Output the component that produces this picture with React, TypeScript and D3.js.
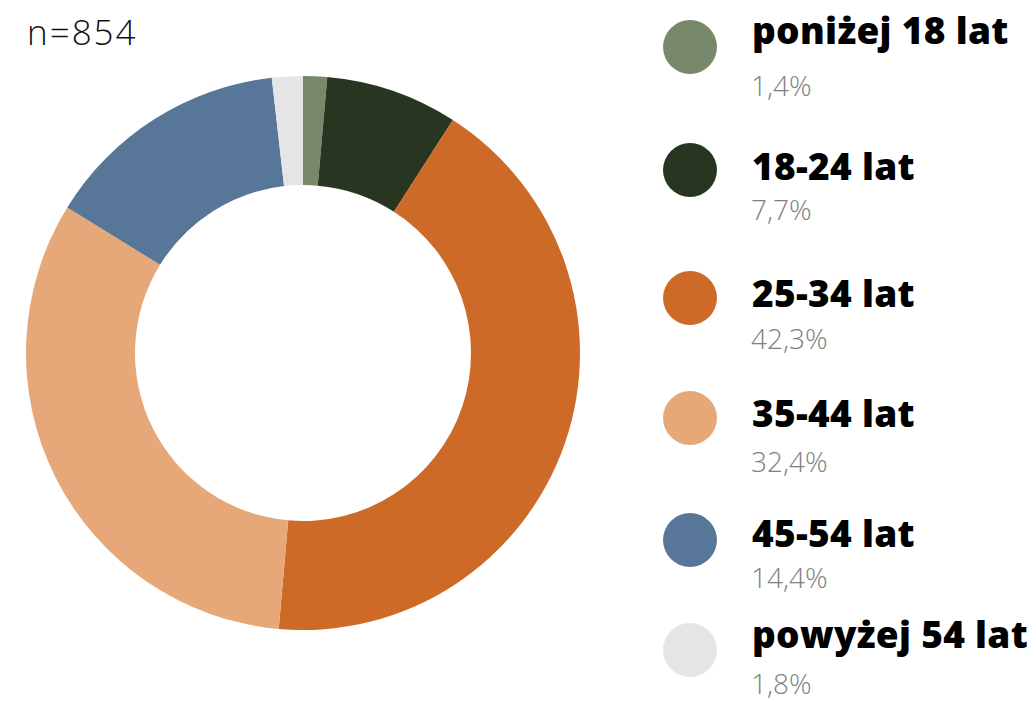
import { useEffect, useRef } from "react";
import * as d3 from "d3";

const categories = ["poniżej 18 lat", "18-24 lat", "25-34 lat", "35-44 lat", "45-54 lat", "powyżej 54 lat"];
const shares = [1.4, 7.7, 42.3, 32.4, 14.4, 1.8];
const shareLabels = ["1,4%", "7,7%", "42,3%", "32,4%", "14,4%", "1,8%"];
const colors = ["#78896b", "#283520", "#cd6a28", "#e7a879", "#587698", "#e5e5e5"];
const sampleLabel = "n=854";

// legend rows: circle centre, label baseline, percent baseline
const legendRows = [
  { cy: 47, label: 44, pct: 96 },
  { cy: 170, label: 180, pct: 220 },
  { cy: 298, label: 307, pct: 349 },
  { cy: 418, label: 427, pct: 472 },
  { cy: 540, label: 547, pct: 588 },
  { cy: 650, label: 648, pct: 694 },
];

const App = () => {
  const svgRef = useRef<SVGSVGElement | null>(null);

  useEffect(() => {
    const width = 1036;
    const height = 701;
    const svg = d3.select(svgRef.current).attr("width", width).attr("height", height);
    svg.selectAll("*").remove();

    const cx = 303;
    const cy = 353;
    const outer = 277;
    const inner = 168;

    const data = categories.map((c, i) => ({ name: c, value: shares[i], color: colors[i] }));

    const pie = d3
      .pie<{ name: string; value: number; color: string }>()
      .value((d) => d.value)
      .sort(null);

    const arc = d3
      .arc<d3.PieArcDatum<{ name: string; value: number; color: string }>>()
      .innerRadius(inner)
      .outerRadius(outer);

    svg
      .append("g")
      .attr("transform", `translate(${cx},${cy})`)
      .selectAll("path")
      .data(pie(data))
      .enter()
      .append("path")
      .attr("d", arc)
      .attr("fill", (d) => d.data.color);

    svg
      .append("text")
      .attr("x", 27)
      .attr("y", 45)
      .attr("font-family", "'Open Sans', sans-serif")
      .attr("font-weight", 300)
      .attr("font-size", 35)
      .attr("letter-spacing", 2)
      .attr("fill", "#111")
      .text(sampleLabel);

    const legend = svg.append("g");
    data.forEach((d, i) => {
      const row = legendRows[i];
      legend
        .append("circle")
        .attr("cx", 690)
        .attr("cy", row.cy)
        .attr("r", 27)
        .attr("fill", d.color);
      legend
        .append("text")
        .attr("x", 752)
        .attr("y", row.label)
        .attr("font-family", "'Open Sans', sans-serif")
        .attr("font-weight", 800)
        .attr("font-size", 37)
        .attr("letter-spacing", 0.3)
        .attr("fill", "#000")
        .text(d.name);
      legend
        .append("text")
        .attr("x", 751)
        .attr("y", row.pct)
        .attr("font-family", "'Open Sans', sans-serif")
        .attr("font-weight", 300)
        .attr("font-size", 28)
        .attr("fill", "#808080")
        .text(shareLabels[i]);
    });
  }, []);

  return <svg ref={svgRef} style={{ position: "absolute", left: 0, top: 0 }}></svg>;
};

export default App;
